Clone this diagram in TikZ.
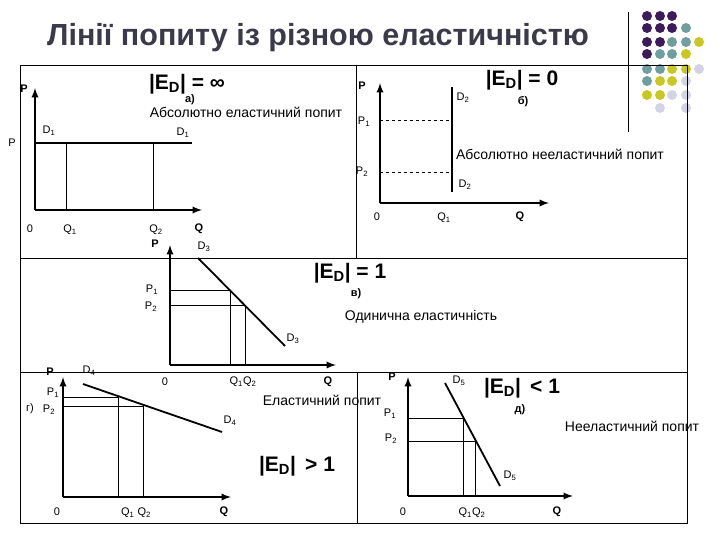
\documentclass[tikz,border=0pt]{standalone}
\usepackage{fontspec}
\setmainfont{Liberation Sans}
\begin{document}
\begin{tikzpicture}[x=1pt,y=-1pt,
  lab/.style={font=\fontsize{11}{12}\selectfont,inner sep=0pt},
  blab/.style={font=\bfseries\fontsize{11}{12}\selectfont,inner sep=0pt},
  txt/.style={font=\fontsize{14}{15}\selectfont,inner sep=0pt},
  big/.style={font=\bfseries\fontsize{21}{22}\selectfont,inner sep=0pt},
  sub/.style={font=\bfseries\fontsize{11}{12}\selectfont,inner sep=0pt},
  axis/.style={line width=2.2pt,-latex},
  curve/.style={line width=2.4pt},
  thin/.style={line width=0.6pt},
  frame/.style={line width=0.8pt},
  dotp/.style={fill=pur,draw=none},
  dott/.style={fill=tea,draw=none},
  doty/.style={fill=yel,draw=none},
  dotl/.style={fill=lav,draw=none}]
\definecolor{pur}{HTML}{3D1A5C}
\definecolor{tea}{HTML}{6E9E9E}
\definecolor{yel}{HTML}{C9C820}
\definecolor{lav}{HTML}{D3D3E6}
\definecolor{ttl}{HTML}{3A3A4A}
\useasboundingbox[fill=white] (0,0) rectangle (720,540);
% title
\node[font=\bfseries\fontsize{30.5}{32}\selectfont,text=ttl] (title) at (318,38) {Лінії попиту із різною еластичністю};
% dots
\foreach \c/\x/\y in {p/647/16,p/660/16,p/672/16,
 p/647/28,p/660/28,p/672/28,t/686/28,
 p/647/42,p/660/42,t/672/42,t/686/42,y/699/42,
 p/647/54,t/660/54,t/672/54,y/686/54,
 t/647/69,t/660/69,y/672/69,y/686/69,l/699/69,
 t/647/81,y/660/81,y/672/81,l/686/81,
 y/647/95,y/660/95,l/672/95,l/686/95,
 l/660/108,l/686/108}
 \fill[dot\c] (\x,\y) circle (5);
% frames
\draw[frame] (628,12) -- (628,132);
\draw[frame] (20,65) -- (687,65) -- (687,523) -- (20,523) -- cycle;
\draw[frame] (356,65) -- (356,258);
\draw[frame] (20,258) -- (687,258);
\draw[frame] (20,372) -- (687,372);
\draw[frame] (357,372) -- (357,523);
% ---- panel a
\coordinate (a0) at (35,210);
\draw[axis] (a0) -- (35,88);
\draw[axis] (a0) -- (202,210);
\coordinate (a1) at (35,143); \coordinate (a2) at (192,143);
\draw[curve] (a1) -- (a2);
\draw[thin] (66,143) -- (66,210);
\draw[thin] (153,143) -- (153,210);
\node[blab] (aP) at (24,89) {P};
\node[lab] (aPP) at (12,143) {P};
\node[lab] (aD1) at (49,131) {D\textsubscript{1}};
\node[lab] (aD1b) at (183,133) {D\textsubscript{1}};
\node[lab] (a00) at (30,229) {0};
\node[lab] (aQ1) at (70,230) {Q\textsubscript{1}};
\node[lab] (aQ2) at (156,230) {Q\textsubscript{2}};
\node[blab] (aQ) at (199,229) {Q};
\node[big] (aE) at (187,84) {|E\textsubscript{D}| = ∞};
\node[sub] (aa) at (190,100) {а)};
\node[txt] (at) at (246,112) {Абсолютно еластичний попит};
% ---- panel b
\coordinate (b0) at (380,203);
\draw[axis] (b0) -- (380,83);
\draw[axis] (b0) -- (549,203);
\draw[curve,line width=1.6pt] (452,87) -- (452,192);
\draw[thin,dashed] (380,120) -- (452,120);
\draw[thin,dashed] (380,172) -- (452,172);
\node[blab] (bP) at (362,86) {P};
\node[lab] (bP1) at (364,122) {P\textsubscript{1}};
\node[lab] (bP2) at (362,172) {P\textsubscript{2}};
\node[lab] (bD2) at (463,98) {D\textsubscript{2}};
\node[lab] (bD2b) at (465,185) {D\textsubscript{2}};
\node[lab] (b00) at (377,217) {0};
\node[lab] (bQ1) at (444,218) {Q\textsubscript{1}};
\node[blab] (bQ) at (520,217) {Q};
\node[big] (bE) at (522,80) {|E\textsubscript{D}| = 0};
\node[sub] (bb) at (523,102) {б)};
\node[txt] (bt) at (560,154) {Абсолютно нееластичний попит};
% ---- panel c
\coordinate (c0) at (170,365);
\draw[axis] (c0) -- (170,245);
\draw[axis] (c0) -- (336,365);
\draw[curve,line width=1.8pt] (198,258) -- (285,346);
\draw[thin] (170,290) -- (230,290) -- (230,365);
\draw[thin] (170,305) -- (245,305) -- (245,365);
\node[blab] (cP) at (155,244) {P};
\node[lab] (cD3) at (204,247) {D\textsubscript{3}};
\node[lab] (cD3b) at (293,339) {D\textsubscript{3}};
\node[lab] (cP1) at (152,290) {P\textsubscript{1}};
\node[lab] (cP2) at (151,307) {P\textsubscript{2}};
\node[lab] (c00) at (165,382) {0};
\node[lab] (cQ) at (243,382) {Q\textsubscript{1}Q\textsubscript{2}};
\node[blab] (cQQ) at (328,382) {Q};
\node[big] (cE) at (350,273) {|E\textsubscript{D}| = 1};
\node[sub] (cc) at (356,294) {в)};
\node[txt] (ct) at (421,317) {Одинична еластичність};
% ---- panel d
\coordinate (d0) at (63,497);
\draw[axis] (d0) -- (63,377);
\draw[axis] (d0) -- (231,497);
\draw[curve,line width=1.8pt] (83,384) -- (222,432);
\draw[thin] (63,397) -- (118,397) -- (118,497);
\draw[thin] (63,406) -- (143,406) -- (143,497);
\node[blab] (dP) at (50,372) {P};
\node[lab] (dD4) at (89,371) {D\textsubscript{4}};
\node[lab] (dP1) at (53,393) {P\textsubscript{1}};
\node[lab] (dg) at (30,409) {г)};
\node[lab] (dP2) at (49,410) {P\textsubscript{2}};
\node[lab] (dD4b) at (230,421) {D\textsubscript{4}};
\node[lab] (d00) at (57,512) {0};
\node[lab] (dQ) at (136,513) {Q\textsubscript{1} Q\textsubscript{2}};
\node[blab] (dQQ) at (224,512) {Q};
\node[big] (dE) at (297,466) {|E\textsubscript{D}|\, > 1};
\node[txt] (dt) at (322,400) {Еластичний попит};
% ---- panel e
\coordinate (e0) at (408,496);
\draw[axis] (e0) -- (408,377);
\draw[axis] (e0) -- (573,496);
\draw[curve,line width=1.8pt] (445,383) -- (500,486);
\draw[thin] (408,418) -- (463,418) -- (463,496);
\draw[thin] (408,441) -- (475,441) -- (475,496);
\node[blab] (eP) at (392,377) {P};
\node[lab] (eD5) at (459,381) {D\textsubscript{5}};
\node[lab] (eP1) at (390,414) {P\textsubscript{1}};
\node[lab] (eP2) at (391,439) {P\textsubscript{2}};
\node[lab] (eD5b) at (510,476) {D\textsubscript{5}};
\node[lab] (e00) at (403,512) {0};
\node[lab] (eQ) at (472,513) {Q\textsubscript{1}Q\textsubscript{2}};
\node[blab] (eQQ) at (557,512) {Q};
\node[big] (eE) at (522,388) {|E\textsubscript{D}|\, < 1};
\node[sub] (ee) at (520,410) {д)};
\node[txt] (et) at (632,426) {Нееластичний попит};
\end{tikzpicture}
\end{document}
